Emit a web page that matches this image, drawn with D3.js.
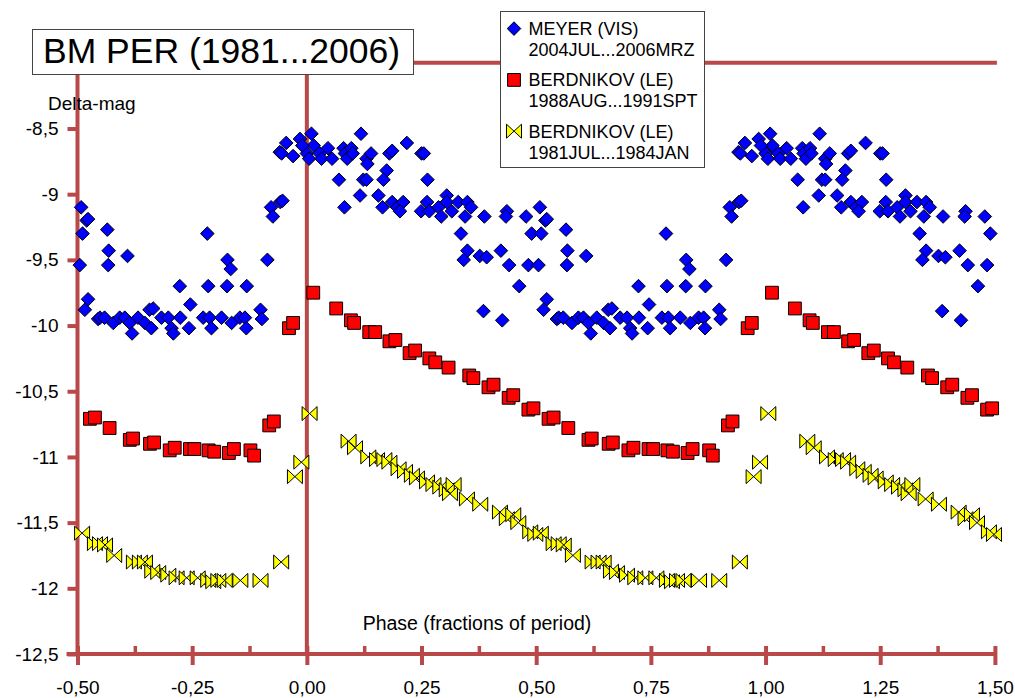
<!DOCTYPE html>
<html>
<head>
<meta charset="utf-8">
<script src="https://cdn.jsdelivr.net/npm/d3@7"></script>
<style>
  body { margin: 0; background: #fff; }
  svg text { font-family: "Liberation Sans", Arial, Helvetica, sans-serif; fill: #000; }
</style>
</head>
<body>
<div id="chart"></div>
<script>
// Phase-folded light curve data, [phase, delta-mag], phase in 0..1
const meyerData = [
  [0.000,-8.69],[0.005,-8.73],[0.010,-8.54],[0.015,-8.63],[0.028,-8.69],[0.032,-8.73],[0.046,-8.65],[0.055,-8.73],
  [0.080,-8.65],[0.083,-8.69],[0.088,-8.73],[0.097,-8.65],[0.100,-8.69],[0.118,-8.54],[0.130,-8.73],[0.140,-8.69],
  [0.132,-8.77],[0.180,-8.69],[0.186,-8.67],[0.218,-8.61],[0.250,-8.69],[0.255,-8.69],[0.174,-8.82],
  [0.070,-8.89],[0.123,-8.89],[0.130,-8.89],[0.167,-8.89],[0.263,-8.89],
  [0.116,-9.01],[0.156,-9.01],
  [0.082,-9.10],[0.165,-9.10],[0.186,-9.06],[0.197,-9.10],[0.210,-9.06],[0.203,-9.13],[0.249,-9.13],[0.262,-9.06],
  [0.267,-9.13],[0.287,-9.10],[0.305,-9.01],[0.305,-9.06],[0.293,-9.17],[0.316,-9.13],[0.330,-9.06],[0.350,-9.06],
  [0.345,-9.17],[0.358,-9.10],[0.387,-9.17],[0.436,-9.13],[0.434,-9.17],[0.478,-9.17],[0.508,-9.10],[0.520,-9.20],
  [0.523,-9.19],
  [0.336,-9.30],[0.490,-9.30],[0.511,-9.30],[0.565,-9.27],
  [0.350,-9.43],[0.342,-9.50],[0.377,-9.47],[0.392,-9.48],[0.423,-9.43],[0.441,-9.54],[0.483,-9.54],[0.505,-9.54],
  [0.568,-9.43],[0.567,-9.54],[0.609,-9.47],[0.783,-9.30],[0.827,-9.50],[0.834,-9.57],[0.914,-9.50],
  [0.463,-9.70],[0.723,-9.70],[0.785,-9.70],[0.826,-9.70],[0.869,-9.70],
  [0.523,-9.80],[0.516,-9.88],[0.385,-9.89],[0.426,-9.96],[0.746,-9.84],[0.899,-9.88],[0.902,-9.95],
  [0.922,-9.10],[0.942,-9.06],[0.947,-9.05],[0.926,-9.17],
  [0.941,-8.68],[0.945,-8.69],[0.955,-8.61],[0.970,-8.71],[0.985,-8.58],[0.990,-8.63],
  [0.545,-9.95],[0.549,-9.94],[0.559,-9.94],[0.578,-9.98],[0.592,-9.94],[0.603,-9.94],[0.614,-9.98],[0.619,-10.06],
  [0.632,-9.94],[0.647,-9.98],[0.657,-9.88],[0.665,-9.87],[0.661,-10.02],[0.683,-9.94],[0.698,-9.94],[0.705,-10.02],
  [0.709,-10.06],[0.724,-9.94],[0.743,-10.02],[0.774,-9.94],[0.788,-9.94],[0.792,-10.02],[0.814,-9.94],[0.836,-9.98],
  [0.854,-9.94],[0.865,-9.94],[0.868,-10.02]
];

const berd88Data = [
  [0.014,-9.75],[0.064,-9.87],[0.096,-9.96],[0.103,-9.98],[0.136,-10.05],[0.149,-10.05],[0.180,-10.12],[0.193,-10.11],
  [0.224,-10.21],[0.236,-10.19],[0.267,-10.25],[0.280,-10.28],[0.309,-10.32],[0.354,-10.38],[0.363,-10.40],[0.396,-10.47],
  [0.407,-10.45],[0.440,-10.55],[0.450,-10.53],[0.483,-10.64],[0.494,-10.63],[0.527,-10.71],[0.538,-10.70],[0.570,-10.78],
  [0.614,-10.87],[0.621,-10.86],[0.658,-10.90],[0.667,-10.89],[0.701,-10.95],[0.712,-10.93],[0.745,-10.94],[0.755,-10.94],
  [0.786,-10.95],[0.798,-10.96],[0.830,-10.97],[0.841,-10.94],[0.877,-10.95],[0.885,-10.99],[0.918,-10.76],[0.928,-10.73],
  [0.961,-10.02],[0.970,-9.98]
];

const berd81Data = [
  [0.006,-10.67],[0.091,-10.88],[0.105,-10.93],[0.134,-11.00],[0.153,-11.02],[0.169,-11.02],[0.180,-11.04],[0.200,-11.09],
  [0.214,-11.11],[0.229,-11.14],[0.240,-11.16],[0.262,-11.19],[0.276,-11.21],[0.291,-11.23],[0.305,-11.25],[0.312,-11.28],
  [0.320,-11.21],[0.349,-11.32],[0.378,-11.36],[0.421,-11.42],[0.436,-11.47],[0.450,-11.44],[0.461,-11.50],[0.487,-11.57],
  [0.498,-11.59],[0.510,-11.58],[0.538,-11.66],[0.549,-11.66],[0.560,-11.67],[0.580,-11.75],[0.623,-11.80],[0.636,-11.80],
  [0.647,-11.80],[0.663,-11.87],[0.676,-11.88],[0.698,-11.90],[0.716,-11.92],[0.738,-11.92],[0.762,-11.92],[0.785,-11.94],
  [0.796,-11.95],[0.807,-11.94],[0.821,-11.94],[0.855,-11.94],[0.899,-11.94],[0.944,-11.80],[0.974,-11.15],[0.988,-11.04]
];

const xMajorTicks = [-0.5, -0.25, 0, 0.25, 0.5, 0.75, 1, 1.25, 1.5];
const xMinorTicks = [-0.375, -0.125, 0.125, 0.375, 0.625, 0.875, 1.125, 1.375];
const yTicks = [-8.5, -9, -9.5, -10, -10.5, -11, -11.5, -12, -12.5];

const legendItems = [
  { shape: 'diamond', fill: '#0000ff', line1: 'MEYER (VIS)', line2: '2004JUL...2006MRZ' },
  { shape: 'square', fill: '#ff0000', line1: 'BERDNIKOV (LE)', line2: '1988AUG...1991SPT' },
  { shape: 'bowtie', fill: '#ffff00', line1: 'BERDNIKOV (LE)', line2: '1981JUL...1984JAN' }
];

const width = 1015;
const height = 698;
const axisColor = '#b94848';

const shapes = {
  diamond: 'M0,-6.8L6.8,0L0,6.8L-6.8,0Z',
  square: 'M-6.4,-6.4H6.4V6.4H-6.4Z',
  bowtie: 'M-7.5,-7L7.5,7L7.5,-7L-7.5,7Z'
};

const svg = d3.select('#chart').append('svg')
  .attr('width', width)
  .attr('height', height);

const x = d3.scaleLinear().domain([-0.5, 1.5]).range([77.5, 994.9]);
const y = d3.scaleLinear().domain([-8, -12.5]).range([62.8, 654]);

// decimal comma, plain hyphen for the sign
const commaNum = (v, digits) => v.toFixed(digits).replace('.', ',');

// x axis with major ticks crossing the line
const xAxis = svg.append('g')
  .attr('transform', `translate(0,${y(-12.5)})`)
  .call(d3.axisBottom(x).tickValues(xMajorTicks).tickSize(11).tickPadding(0)
    .tickFormat(d => commaNum(d, 2)));
xAxis.select('.domain').remove();
xAxis.selectAll('.tick line')
  .attr('y1', -8).attr('y2', 11)
  .attr('stroke', axisColor).attr('stroke-width', 4);
xAxis.selectAll('.tick text')
  .attr('y', 40).attr('dy', 0)
  .style('font-size', '19px');

// minor ticks above the x axis
const xMinor = svg.append('g')
  .attr('transform', `translate(0,${y(-12.5)})`)
  .call(d3.axisBottom(x).tickValues(xMinorTicks).tickSize(0).tickFormat(''));
xMinor.select('.domain').remove();
xMinor.selectAll('.tick line')
  .attr('y1', 0).attr('y2', -8)
  .attr('stroke', axisColor).attr('stroke-width', 3.5);

// y axis
const yAxis = svg.append('g')
  .attr('transform', `translate(${x(-0.5)},0)`)
  .call(d3.axisLeft(y).tickValues(yTicks).tickSize(10).tickPadding(9)
    .tickFormat(d => String(d).replace('.', ',')));
yAxis.select('.domain').remove();
yAxis.selectAll('.tick line')
  .attr('stroke', axisColor).attr('stroke-width', 4);
yAxis.selectAll('.tick text')
  .style('font-size', '19px');

// frame lines: x axis, y axis, top line, zero line
const frame = [
  [x(-0.5) - 11, y(-12.5), x(1.5) + 2, y(-12.5)],
  [x(-0.5), y(-8), x(-0.5), y(-12.5) + 2],
  [x(-0.5), y(-8), x(1.5) + 2, y(-8)],
  [x(0), y(-8), x(0), y(-12.5)]
];
svg.append('g').selectAll('line')
  .data(frame)
  .join('line')
  .attr('x1', d => d[0]).attr('y1', d => d[1])
  .attr('x2', d => d[2]).attr('y2', d => d[3])
  .attr('stroke', axisColor)
  .attr('stroke-width', 4);

// axis titles
svg.append('text')
  .attr('x', 48)
  .attr('y', 110)
  .style('font-size', '19px')
  .text('Delta-mag');

svg.append('text')
  .attr('x', 477)
  .attr('y', 630)
  .attr('text-anchor', 'middle')
  .style('font-size', '19.5px')
  .text('Phase (fractions of period)');

// repeat each phase point over the -0.5..1.5 window
function unfold(data) {
  const out = [];
  data.forEach(d => {
    [-1, 0, 1].forEach(k => {
      const p = d[0] + k;
      if (p >= -0.5 && p <= 1.5) out.push([p, d[1]]);
    });
  });
  return out;
}

function drawSeries(data, shape, fill) {
  svg.append('g').selectAll('path')
    .data(unfold(data))
    .join('path')
    .attr('transform', d => `translate(${x(d[0])},${y(d[1])})`)
    .attr('d', shapes[shape])
    .attr('fill', fill)
    .attr('stroke', '#000')
    .attr('stroke-width', 1);
}

drawSeries(meyerData, 'diamond', '#0000ff');
drawSeries(berd88Data, 'square', '#ff0000');
drawSeries(berd81Data, 'bowtie', '#ffff00');

// title box
svg.append('rect')
  .attr('x', 32.5).attr('y', 29.5)
  .attr('width', 381).attr('height', 45)
  .attr('fill', '#fff')
  .attr('stroke', '#444')
  .attr('stroke-width', 1);
svg.append('text')
  .attr('x', 43)
  .attr('y', 63)
  .style('font-size', '35.5px')
  .text('BM PER (1981...2006)');

// legend
const legend = svg.append('g');
legend.append('rect')
  .attr('x', 500.5).attr('y', 11.5)
  .attr('width', 204).attr('height', 156)
  .attr('fill', '#fff')
  .attr('stroke', '#444')
  .attr('stroke-width', 1);

legendItems.forEach((item, i) => {
  const cy = 28.6 + i * 51.3;
  legend.append('path')
    .attr('transform', `translate(514,${cy})`)
    .attr('d', shapes[item.shape])
    .attr('fill', item.fill)
    .attr('stroke', '#000')
    .attr('stroke-width', 1);
  legend.append('text')
    .attr('x', 528.5)
    .attr('y', cy + 6.3)
    .style('font-size', '18px')
    .text(item.line1);
  legend.append('text')
    .attr('x', 528.5)
    .attr('y', cy + 27.5)
    .style('font-size', '18px')
    .text(item.line2);
});
</script>
</body>
</html>
